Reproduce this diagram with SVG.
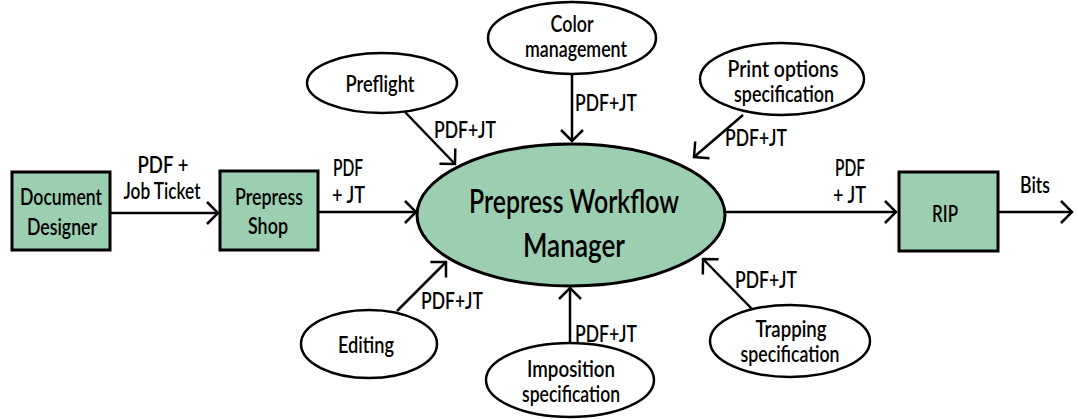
<svg xmlns="http://www.w3.org/2000/svg" width="1078" height="419" viewBox="0 0 1078 419">
<style>
.box{fill:#9ccfb0;stroke:#000;stroke-width:3}
.oval{fill:#fff;stroke:#000;stroke-width:2.5}
text{font-family:Lato,Roboto,"DejaVu Sans Condensed",sans-serif;font-weight:600;font-size:22.5px;fill:#000}
.t{text-anchor:middle}
.big{font-size:33px}
.c{fill:none;stroke:#000;stroke-width:2.5;marker-end:url(#ah)}
</style>
<defs>
<marker id="ah" markerUnits="userSpaceOnUse" viewBox="-14 -14 16 28" refX="0" refY="0" markerWidth="16" markerHeight="28" orient="auto" overflow="visible">
<path d="M-11,-11 L0,0 L-11,11" fill="none" stroke="#000" stroke-width="2.5"/>
</marker>
</defs>
<g id="connectors">
<line class="c" x1="111" y1="213" x2="218" y2="213"/>
<line class="c" x1="318" y1="212" x2="416" y2="212"/>
<line class="c" x1="726" y1="212" x2="896" y2="212"/>
<line class="c" x1="998" y1="212" x2="1072" y2="212"/>
<line class="c" x1="405" y1="112" x2="455" y2="164"/>
<line class="c" x1="572" y1="74" x2="572" y2="141"/>
<line class="c" x1="743" y1="115" x2="694" y2="157"/>
<line class="c" x1="397" y1="311" x2="446" y2="262"/>
<line class="c" x1="570" y1="343" x2="570" y2="288"/>
<line class="c" x1="752" y1="309" x2="703" y2="259"/>
<text class="t" x="163" y="173" textLength="51" lengthAdjust="spacingAndGlyphs">PDF +</text>
<text class="t" x="162" y="199" textLength="77" lengthAdjust="spacingAndGlyphs">Job Ticket</text>
<text x="333" y="176" textLength="30" lengthAdjust="spacingAndGlyphs">PDF</text>
<text x="332" y="203" textLength="33" lengthAdjust="spacingAndGlyphs">+ JT</text>
<text x="835" y="176" textLength="30" lengthAdjust="spacingAndGlyphs">PDF</text>
<text x="833" y="203" textLength="33" lengthAdjust="spacingAndGlyphs">+ JT</text>
<text x="1020" y="193" textLength="30" lengthAdjust="spacingAndGlyphs">Bits</text>
<text x="434" y="138" textLength="62" lengthAdjust="spacingAndGlyphs">PDF+JT</text>
<text x="575" y="111" textLength="62" lengthAdjust="spacingAndGlyphs">PDF+JT</text>
<text x="725" y="146" textLength="62" lengthAdjust="spacingAndGlyphs">PDF+JT</text>
<text x="421" y="309" textLength="62" lengthAdjust="spacingAndGlyphs">PDF+JT</text>
<text x="575" y="342" textLength="62" lengthAdjust="spacingAndGlyphs">PDF+JT</text>
<text x="735" y="288" textLength="62" lengthAdjust="spacingAndGlyphs">PDF+JT</text>
</g>
<g id="document-designer">
<rect class="box" x="12" y="172" width="98" height="78"/>
<text class="t" x="61" y="205" textLength="82" lengthAdjust="spacingAndGlyphs">Document</text>
<text class="t" x="62" y="235" textLength="70" lengthAdjust="spacingAndGlyphs">Designer</text>
</g>
<g id="prepress-shop">
<rect class="box" x="220" y="171" width="98" height="79"/>
<text class="t" x="269" y="205" textLength="68" lengthAdjust="spacingAndGlyphs">Prepress</text>
<text class="t" x="268" y="234" textLength="40" lengthAdjust="spacingAndGlyphs">Shop</text>
</g>
<g id="manager">
<ellipse class="box" cx="571" cy="215" rx="154" ry="71"/>
<text class="t big" x="574" y="213" textLength="210" lengthAdjust="spacingAndGlyphs">Prepress Workflow</text>
<text class="t big" x="574" y="257" textLength="102" lengthAdjust="spacingAndGlyphs">Manager</text>
</g>
<g id="rip">
<rect class="box" x="899" y="172" width="99" height="79"/>
<text class="t" x="945" y="222" textLength="26" lengthAdjust="spacingAndGlyphs">RIP</text>
</g>
<g id="preflight">
<ellipse class="oval" cx="382" cy="83" rx="75" ry="30"/>
<text class="t" x="380" y="92" textLength="69" lengthAdjust="spacingAndGlyphs">Preflight</text>
</g>
<g id="color-management">
<ellipse class="oval" cx="572" cy="38" rx="84" ry="36"/>
<text class="t" x="572" y="32" textLength="43" lengthAdjust="spacingAndGlyphs">Color</text>
<text class="t" x="576" y="57" textLength="102" lengthAdjust="spacingAndGlyphs">management</text>
</g>
<g id="print-options">
<ellipse class="oval" cx="782" cy="79" rx="82" ry="36"/>
<text class="t" x="783" y="77" textLength="111" lengthAdjust="spacingAndGlyphs">Print options</text>
<text class="t" x="784" y="102" textLength="100" lengthAdjust="spacingAndGlyphs">specification</text>
</g>
<g id="editing">
<ellipse class="oval" cx="369" cy="344" rx="68" ry="34"/>
<text class="t" x="366" y="353" textLength="56" lengthAdjust="spacingAndGlyphs">Editing</text>
</g>
<g id="imposition">
<ellipse class="oval" cx="570" cy="380" rx="84" ry="37"/>
<text class="t" x="571" y="377" textLength="88" lengthAdjust="spacingAndGlyphs">Imposition</text>
<text class="t" x="571" y="402" textLength="98" lengthAdjust="spacingAndGlyphs">specification</text>
</g>
<g id="trapping">
<ellipse class="oval" cx="790" cy="341" rx="80" ry="36"/>
<text class="t" x="791" y="337" textLength="71" lengthAdjust="spacingAndGlyphs">Trapping</text>
<text class="t" x="790" y="362" textLength="99" lengthAdjust="spacingAndGlyphs">specification</text>
</g>
</svg>
